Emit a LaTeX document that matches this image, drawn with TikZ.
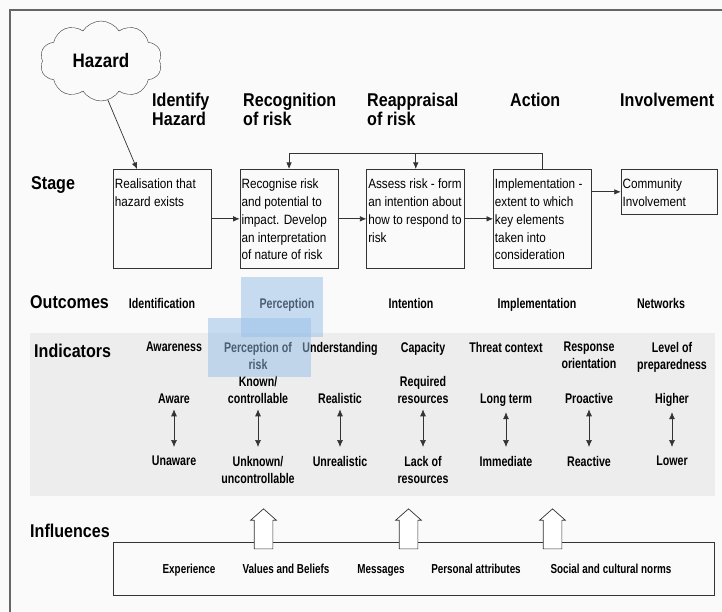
\documentclass[tikz,border=0pt]{standalone}
\usepackage{fontspec}
\setmainfont{Liberation Sans}
\newfontfamily\headfont[FakeStretch=0.87]{Liberation Sans}
\newfontfamily\boxfont[FakeStretch=0.87]{Liberation Sans}
\newfontfamily\labfont[FakeStretch=0.76]{Liberation Sans}
\usepackage{tikz}
\usetikzlibrary{shapes.symbols,shapes.arrows,arrows.meta,positioning}
\definecolor{hlblue}{RGB}{150,190,232}
\definecolor{bgpaper}{RGB}{250,250,250}
\definecolor{bandgray}{RGB}{237,237,237}

\begin{document}
\begin{tikzpicture}[x=1pt, y=-1pt, >={Latex[length=6.5pt,width=5.5pt]},
    colhead/.style={font=\headfont\bfseries\fontsize{18.5}{19}\selectfont, align=left, anchor=base west, inner sep=0pt},
    rowlab/.style={font=\headfont\bfseries\fontsize{18.5}{20}\selectfont, anchor=base west, inner sep=0pt},
    stagebox/.style={draw=black!80, line width=0.7pt, anchor=north west, inner xsep=1.5pt, inner ysep=9.5pt, font=\boxfont\fontsize{13.5}{17.8}\selectfont},
    lab/.style={font=\labfont\bfseries\fontsize{14}{17}\selectfont, align=center, anchor=base, inner sep=0pt},
    flow/.style={->, draw=black!80, line width=0.7pt},
    rng/.style={{Latex[length=7pt,width=6pt]}-{Latex[length=7pt,width=6pt]}, draw=black!80, line width=0.7pt},
    upbox/.style={single arrow, draw=black!80, fill=white, line width=0.7pt, rotate=90, minimum height=40pt, inner xsep=0pt, inner ysep=9pt, single arrow head extend=3.5pt, single arrow head indent=0pt, single arrow tip angle=97}]
    \useasboundingbox (0,0) rectangle (722,612);

    % Paper, frame and shaded band
    \fill[bgpaper] (0,0) rectangle (722,612);
    \draw[black!60, line width=2pt] (10,612) -- (10,10) -- (722,10);
    \fill[bandgray] (30,333) rectangle (715,496);

    % Hazard cloud and column headings
    \node[cloud, draw=black!80, cloud puffs=10, cloud puff arc=115, aspect=1.5, minimum width=122pt, minimum height=80pt, inner sep=0pt, font=\headfont\bfseries\fontsize{19.5}{20}\selectfont] (hazard) at (101,61) {Hazard};
    \node[colhead] (hIdentify) at (152,126) {Identify\\Hazard};
    \node[colhead] (hRecognition) at (243,126) {Recognition\\of risk};
    \node[colhead] (hReappraisal) at (367,126) {Reappraisal\\of risk};
    \node[colhead] (hAction) at (510,107) {Action};
    \node[colhead] (hInvolvement) at (620,107) {Involvement};

    % Stage row
    \node[rowlab] (rStage) at (31,190) {Stage};
    \node[stagebox] (s1) at (113,169) {\parbox[t][80pt][t]{95pt}{Realisation that\\hazard exists}};
    \node[stagebox, right=28pt of s1] (s2) {\parbox[t][80pt][t]{95pt}{Recognise risk\\and potential to\\impact. Develop\\an interpretation\\of nature of risk}};
    \node[stagebox, right=28pt of s2] (s3) {\parbox[t][80pt][t]{95pt}{Assess risk - form\\an intention about\\how to respond to\\risk}};
    \node[stagebox, right=28pt of s3] (s4) {\parbox[t][80pt][t]{95pt}{Implementation -\\extent to which\\key elements\\taken into\\consideration}};
    \node[stagebox, right=29pt of s4.north east, anchor=north west] (s5) {\parbox[t][26pt][t]{93pt}{Community\\Involvement}};

    % Stage arrows
    \draw[flow] (hazard.-80) -- ([xshift=24pt]s1.north west);
    \draw[flow] (s1) -- (s2);
    \draw[flow] (s2) -- (s3);
    \draw[flow] (s3) -- (s4);
    \draw[flow] (s4.east |- s5) -- (s5);
    \draw[flow] (s4.north) -- ++(0,-16) coordinate (fb) -| (s2.north);
    \draw[flow] (fb -| s3.north) -- (s3.north);

    % Outcomes row
    \node[rowlab] (rOutcomes) at (30,308) {Outcomes};
    \foreach \x/\txt [count=\i] in {162/Identification, 287/Perception, 411/Intention, 537/Implementation, 661/Networks}
        \node[lab] (out\i) at (\x,308) {\txt};

    % Indicators with their ranges
    \node[rowlab] (rIndicators) at (34,357) {Indicators};
    \foreach \x/\ind/\hi/\lo [count=\i] in {
        174/Awareness/Aware/Unaware,
        258/{Perception of\\risk}/{Known/\\controllable}/{Unknown/\\uncontrollable},
        340/Understanding/Realistic/Unrealistic,
        423/Capacity/{Required\\resources}/{Lack of\\resources},
        506/Threat context/Long term/Immediate,
        589/{Response\\orientation}/Proactive/Reactive,
        672/{Level of\\preparedness}/Higher/Lower}
    {
        \node[lab, anchor=north] (ind\i) at (\x,342) {\ind};
        \node[lab] (hi\i) at (\x,403) {\hi};
        \node[lab, anchor=north] (lo\i) at (\x,456) {\lo};
        \draw[rng] ([yshift=-6pt]hi\i.south) -- ([yshift=9pt]lo\i.north);
    }

    % Influences
    \node[rowlab] (rInfluences) at (30,537) {Influences};
    \node[draw=black!80, line width=0.7pt, minimum width=601pt, minimum height=53pt, inner sep=0pt] (infl) at (413.5,568.5) {};
    \foreach \x [count=\i] in {263.5,408.5,552.5}
        \node[upbox] (up\i) at (\x,533) {};
    \foreach \x/\txt [count=\i] in {189/Experience, 286/Values and Beliefs, 381/Messages, 476/Personal attributes, 611/Social and cultural norms}
        \node[lab, font=\labfont\bfseries\fontsize{13}{15}\selectfont] (inf\i) at (\x,573) {\txt};

    % Highlight boxes
    \fill[hlblue, opacity=0.5] (241,277) rectangle (323,337);
    \fill[hlblue, opacity=0.5] (208,318) rectangle (311,377);
\end{tikzpicture}
\end{document}
